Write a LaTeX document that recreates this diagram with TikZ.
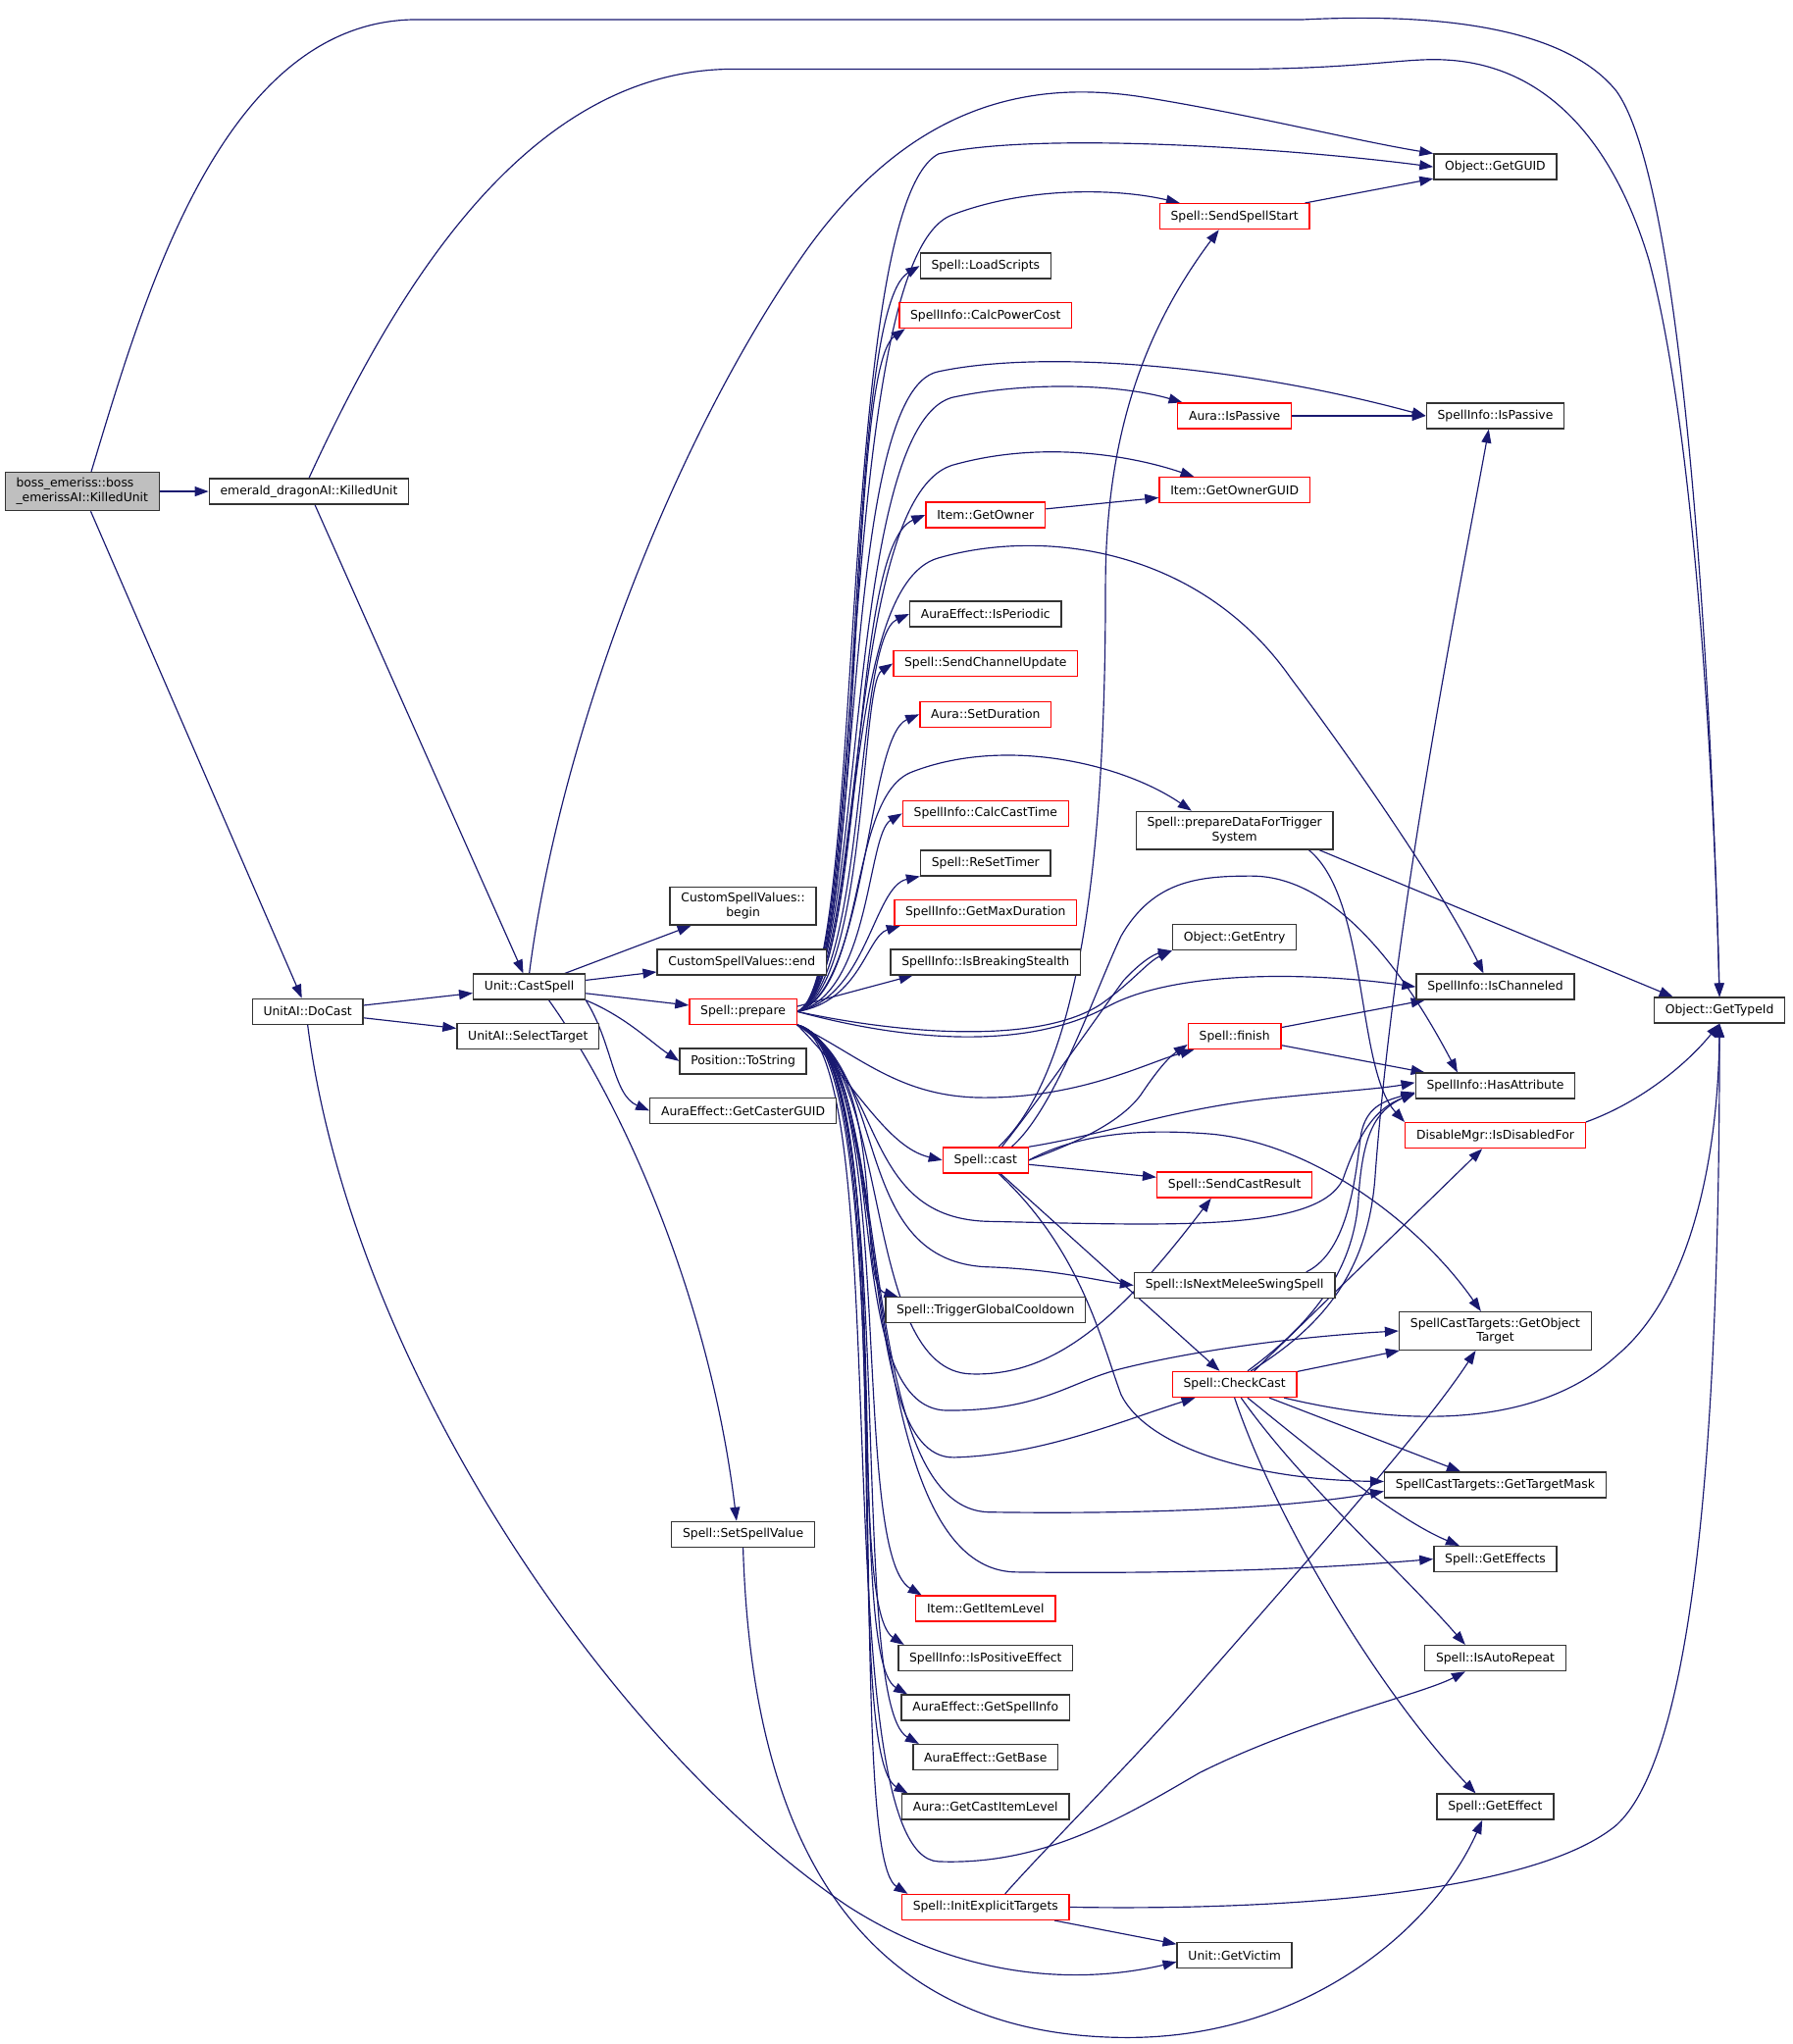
\documentclass[tikz,border=0pt]{standalone}
\usepackage{fontspec}
\setmainfont{DejaVu Sans}
\usetikzlibrary{arrows.meta, backgrounds}
\definecolor{callblue}{HTML}{191970}

\begin{document}
\begin{tikzpicture}[
        x=0.02cm, y=-0.02cm,
        fn/.style={draw=black!80, fill=white, line width=0.6pt, minimum height=0.39cm, inner xsep=0.17cm, inner ysep=0.09cm, align=center, font=\fontsize{5.3}{6.3}\selectfont},
        fnred/.style={fn, draw=red},
        root/.style={fn, fill=black!25, align=left},
        call/.style={-{Triangle[length=0.21cm,width=0.15cm]}, draw=callblue, line width=0.5pt}
    ]
    \useasboundingbox (0,0) rectangle (1375,1568);

    \node[root] (boss) at (63,377) {boss\_emeriss::boss\\\_emerissAI::KilledUnit};
    \node[fn] (emerald) at (237,377) {emerald\_dragonAI::KilledUnit};
    \node[fn] (docast) at (236,776) {UnitAI::DoCast};
    \node[fn] (castspell) at (406,757) {Unit::CastSpell};
    \node[fn] (selecttarget) at (405,795) {UnitAI::SelectTarget};
    \node[fn] (csvbegin) at (570,695) {CustomSpellValues::\\begin};
    \node[fn] (csvend) at (569,738) {CustomSpellValues::end};
    \node[fnred] (prepare) at (570,776) {Spell::prepare};
    \node[fn] (tostring) at (570,814) {Position::ToString};
    \node[fn] (castergguid) at (570,852) {AuraEffect::GetCasterGUID};
    \node[fn] (setspellvalue) at (570,1177) {Spell::SetSpellValue};

    \node[fn] (getguid) at (1147,128) {Object::GetGUID};
    \node[fnred] (sendspellstart) at (947,166) {Spell::SendSpellStart};
    \node[fn] (loadscripts) at (756,204) {Spell::LoadScripts};
    \node[fnred] (calcpowercost) at (756,242) {SpellInfo::CalcPowerCost};
    \node[fn] (ispassive) at (1147,319) {SpellInfo::IsPassive};
    \node[fnred] (aurapassive) at (947,319) {Aura::IsPassive};
    \node[fnred] (ownerguid) at (947,376) {Item::GetOwnerGUID};
    \node[fnred] (getowner) at (756,395) {Item::GetOwner};
    \node[fn] (isperiodic) at (756,471) {AuraEffect::IsPeriodic};
    \node[fnred] (sendchannel) at (756,509) {Spell::SendChannelUpdate};
    \node[fnred] (setduration) at (756,548) {Aura::SetDuration};
    \node[fn] (prepdata) at (947,637) {Spell::prepareDataForTrigger\\System};
    \node[fnred] (calccasttime) at (756,624) {SpellInfo::CalcCastTime};
    \node[fn] (resettimer) at (756,662) {Spell::ReSetTimer};
    \node[fnred] (getmaxduration) at (756,700) {SpellInfo::GetMaxDuration};
    \node[fn] (breakstealth) at (756,738) {SpellInfo::IsBreakingStealth};
    \node[fn] (getentry) at (947,719) {Object::GetEntry};
    \node[fn] (ischanneled) at (1147,757) {SpellInfo::IsChanneled};
    \node[fn] (gettypeid) at (1319,775) {Object::GetTypeId};
    \node[fnred] (finish) at (947,795) {Spell::finish};
    \node[fn] (hasattr) at (1147,833) {SpellInfo::HasAttribute};
    \node[fnred] (disabled) at (1147,871) {DisableMgr::IsDisabledFor};
    \node[fnred] (cast) at (756,890) {Spell::cast};
    \node[fnred] (sendcastresult) at (947,909) {Spell::SendCastResult};
    \node[fn] (nextmelee) at (947,986) {Spell::IsNextMeleeSwingSpell};
    \node[fn] (triggergcd) at (756,1005) {Spell::TriggerGlobalCooldown};
    \node[fn] (getobjtarget) at (1147,1021) {SpellCastTargets::GetObject\\Target};
    \node[fnred] (checkcast) at (947,1062) {Spell::CheckCast};
    \node[fn] (gettargetmask) at (1147,1139) {SpellCastTargets::GetTargetMask};
    \node[fn] (geteffects) at (1147,1196) {Spell::GetEffects};
    \node[fnred] (itemlevel) at (756,1234) {Item::GetItemLevel};
    \node[fn] (autorepeat) at (1147,1272) {Spell::IsAutoRepeat};
    \node[fn] (ispositive) at (756,1272) {SpellInfo::IsPositiveEffect};
    \node[fn] (getspellinfo) at (756,1310) {AuraEffect::GetSpellInfo};
    \node[fn] (getbase) at (756,1348) {AuraEffect::GetBase};
    \node[fn] (castitemlevel) at (756,1386) {Aura::GetCastItemLevel};
    \node[fn] (geteffect) at (1147,1386) {Spell::GetEffect};
    \node[fnred] (initexplicit) at (756,1463) {Spell::InitExplicitTargets};
    \node[fn] (getvictim) at (947,1500) {Unit::GetVictim};

    \begin{scope}[on background layer]
    % callers
    \draw[call] (boss) -- (emerald);
    \draw[call] (boss) -- (docast);
    \draw[call] ([xshift=0.14cm]boss.north) .. controls (110,230) and (170,15) .. (320,15) -- (1000,15) .. controls (1100,10) and (1200,20) .. (1240,70) .. controls (1290,140) and (1312,500) .. (gettypeid.north);
    \draw[call] (emerald.north) .. controls (300,230) and (400,55) .. (560,53) -- (960,53) .. controls (1050,52) and (1080,44) .. (1110,46) .. controls (1180,50) and (1235,100) .. (1265,200) .. controls (1300,330) and (1315,600) .. (gettypeid.north);
    \draw[call] (emerald) -- (castspell);
    \draw[call] (docast) -- (castspell);
    \draw[call] (docast) -- (selecttarget);
    \draw[call] (docast.south) .. controls (270,1050) and (470,1340) .. (650,1462) .. controls (740,1520) and (830,1522) .. ([yshift=-0.1cm]getvictim.west);

    \draw[call] (castspell.north) .. controls (430,560) and (520,330) .. (620,190) .. controls (700,80) and (790,60) .. (880,75) .. controls (960,88) and (1040,108) .. (getguid.north west);
    \draw[call] (castspell) -- (csvbegin);
    \draw[call] (castspell) -- (csvend);
    \draw[call] (castspell) -- (prepare);
    \draw[call] (castspell.south east) .. controls (480,780) and (500,800) .. (tostring.west);
    \draw[call] (castspell.south east) .. controls (470,800) and (470,840) .. (castergguid.west);
    \draw[call] ([xshift=0.3cm]castspell.south) .. controls (480,850) and (545,1000) .. ([xshift=-0.1cm]setspellvalue.north);
    \draw[call] (setspellvalue.south) .. controls (575,1350) and (620,1560) .. (860,1563) .. controls (1000,1565) and (1100,1480) .. ([xshift=-0.2cm]geteffect.south);

    % Spell::prepare
    \draw[call] (prepare.east) .. controls (665,755) and (640,160) .. (720,118) .. controls (800,100) and (1000,115) .. (getguid.west);
    \draw[call] (prepare.east) .. controls (665,755) and (640,200) .. (730,165) .. controls (790,142) and (860,145) .. ([xshift=-0.84cm]sendspellstart.north);
    \draw[call] (prepare.east) .. controls (665,755) and (645,240) .. (loadscripts.west);
    \draw[call] (prepare.east) .. controls (665,755) and (648,285) .. ([xshift=0.1cm]calcpowercost.south west);
    \draw[call] (prepare.east) .. controls (665,755) and (640,300) .. (720,285) .. controls (800,268) and (950,280) .. (ispassive.west);
    \draw[call] (prepare.east) .. controls (665,755) and (645,330) .. (730,305) .. controls (790,292) and (860,295) .. ([xshift=-0.8cm]aurapassive.north);
    \draw[call] (prepare.east) .. controls (665,755) and (645,385) .. (730,357) .. controls (800,337) and (870,350) .. ([xshift=-0.62cm]ownerguid.north);
    \draw[call] (prepare.east) .. controls (665,755) and (650,420) .. (getowner.west);
    \draw[call] (prepare.east) .. controls (665,755) and (640,450) .. (720,428) .. controls (800,405) and (920,420) .. (990,520) .. controls (1050,600) and (1110,690) .. ([xshift=-0.18cm]ischanneled.north);
    \draw[call] (prepare.east) .. controls (665,755) and (655,490) .. (isperiodic.west);
    \draw[call] (prepare.east) .. controls (665,758) and (660,525) .. (sendchannel.west);
    \draw[call] (prepare.east) .. controls (665,760) and (665,565) .. (setduration.west);
    \draw[call] (prepare.east) .. controls (665,758) and (650,610) .. (700,592) .. controls (770,565) and (860,585) .. ([xshift=-0.66cm]prepdata.north);
    \draw[call] (prepare.east) .. controls (668,762) and (665,640) .. (calccasttime.west);
    \draw[call] (prepare.east) .. controls (665,765) and (670,680) .. (resettimer.south west);
    \draw[call] (prepare.east) .. controls (660,768) and (665,718) .. ([xshift=0.1cm]getmaxduration.south west);
    \draw[call] ([yshift=0.08cm]prepare.east) -- ([xshift=0.35cm]breakstealth.south west);
    \draw[call] (prepare.east) .. controls (700,795) and (800,800) .. (845,770) .. controls (870,752) and (880,738) .. (getentry.south west);
    \draw[call] (prepare.east) .. controls (700,800) and (790,805) .. (850,772) .. controls (900,745) and (1000,745) .. (ischanneled.west);
    \draw[call] (prepare.south east) .. controls (660,810) and (690,842) .. (755,842) .. controls (830,842) and (880,815) .. ([xshift=0.1cm]finish.south west);
    \draw[call] (prepare.south east) .. controls (655,830) and (680,880) .. (cast.west);
    \draw[call] (prepare.south east) .. controls (680,830) and (660,936) .. (760,937) .. controls (900,940) and (1010,945) .. (1030,905) .. controls (1042,870) and (1055,850) .. ([yshift=-0.12cm]hasattr.west);
    \draw[call] (prepare.south east) .. controls (685,820) and (650,970) .. (760,972) .. controls (810,974) and (840,982) .. (nextmelee.west);
    \draw[call] (prepare.south east) .. controls (685,815) and (660,1052) .. (745,1054) .. controls (810,1056) and (860,1010) .. ([xshift=-0.36cm]sendcastresult.south);
    \draw[call] (prepare.south east) .. controls (685,820) and (655,985) .. ([xshift=0.2cm]triggergcd.north west);
    \draw[call] (prepare.south east) .. controls (688,810) and (640,1082) .. (727,1082) .. controls (800,1082) and (820,1060) .. (860,1050) .. controls (920,1035) and (1000,1025) .. (getobjtarget.west);
    \draw[call] (prepare.south east) .. controls (688,810) and (650,1120) .. (732,1118) .. controls (800,1116) and (860,1090) .. ([xshift=0.36cm]checkcast.south west);
    \draw[call] (prepare.south east) .. controls (690,808) and (650,1160) .. (760,1160) .. controls (900,1162) and (1000,1155) .. ([yshift=-0.1cm]gettargetmask.west);
    \draw[call] (prepare.south east) .. controls (690,808) and (650,1205) .. (780,1206) .. controls (950,1208) and (1050,1200) .. (geteffects.west);
    \draw[call] (prepare.south east) .. controls (690,805) and (650,1190) .. ([xshift=0.1cm]itemlevel.north west);
    \draw[call] (prepare.south east) .. controls (690,805) and (645,1230) .. ([xshift=0.1cm]ispositive.north west);
    \draw[call] (prepare.south east) .. controls (692,805) and (645,1270) .. ([xshift=0.1cm]getspellinfo.north west);
    \draw[call] (prepare.south east) .. controls (692,805) and (648,1305) .. ([xshift=0.1cm]getbase.north west);
    \draw[call] (prepare.south east) .. controls (694,805) and (642,1345) .. ([xshift=0.1cm]castitemlevel.north west);
    \draw[call] (prepare.south east) .. controls (690,808) and (630,1425) .. (720,1428) .. controls (800,1431) and (860,1395) .. (920,1360) .. controls (1000,1320) and (1090,1300) .. ([xshift=-0.46cm]autorepeat.south);
    \draw[call] (prepare.south east) .. controls (694,805) and (645,1420) .. ([xshift=0.1cm]initexplicit.north west);

    \draw[call] (sendspellstart) -- (getguid);
    \draw[call] (aurapassive) -- (ispassive);
    \draw[call] (getowner) -- (ownerguid);
    \draw[call] ([xshift=1.3cm]prepdata.south) -- ([xshift=0.3cm]gettypeid.north west);
    \draw[call] ([xshift=1.14cm]prepdata.south) .. controls (1050,690) and (1040,820) .. (disabled.north west);
    \draw[call] (finish) -- (ischanneled);
    \draw[call] (finish) -- (hasattr);
    \draw[call] (disabled.north east) .. controls (1260,845) and (1295,815) .. (gettypeid.south);

    % Spell::cast
    \draw[call] ([xshift=0.2cm]cast.north) .. controls (830,820) and (848,650) .. (848,450) .. controls (848,330) and (880,250) .. ([xshift=-0.24cm]sendspellstart.south);
    \draw[call] ([xshift=0.25cm]cast.north) .. controls (800,840) and (845,775) .. (862,752) .. controls (875,738) and (885,732) .. (getentry.south west);
    \draw[call] ([xshift=0.4cm]cast.north) .. controls (810,850) and (840,760) .. (860,718) .. controls (885,675) and (920,672) .. (960,672) .. controls (1030,672) and (1085,760) .. ([xshift=-0.58cm]hasattr.north);
    \draw[call] (cast.north east) .. controls (850,870) and (900,850) .. (980,842) .. controls (1030,837) and (1060,835) .. ([yshift=0.05cm]hasattr.west);
    \draw[call] (cast.east) .. controls (830,875) and (860,860) .. (875,840) .. controls (885,825) and (895,812) .. ([yshift=0.08cm]finish.south west);
    \draw[call] (cast) -- (sendcastresult);
    \draw[call] (cast.east) .. controls (830,868) and (880,866) .. (930,870) .. controls (1010,878) and (1090,940) .. ([xshift=-0.22cm]getobjtarget.north);
    \draw[call] (cast) -- (checkcast);
    \draw[call] ([xshift=0.2cm]cast.south) .. controls (830,960) and (845,1030) .. (860,1070) .. controls (880,1110) and (960,1135) .. ([yshift=0.05cm]gettargetmask.west);

    % Spell::CheckCast
    \draw[call] (checkcast) -- (getobjtarget);
    \draw[call] ([xshift=0.76cm]checkcast.south) .. controls (1080,1095) and (1180,1095) .. (1240,1040) .. controls (1300,990) and (1318,880) .. (gettypeid.south);
    \draw[call] (checkcast) -- (gettargetmask);
    \draw[call] ([xshift=0.2cm]checkcast.south) .. controls (1010,1115) and (1070,1165) .. ([xshift=-0.55cm]geteffects.north);
    \draw[call] ([xshift=0.1cm]checkcast.south) .. controls (1000,1140) and (1070,1200) .. ([xshift=-0.46cm]autorepeat.north);
    \draw[call] (checkcast.south) .. controls (980,1170) and (1060,1300) .. ([xshift=-0.3cm]geteffect.north);
    \draw[call] ([xshift=0.3cm]checkcast.north) -- ([xshift=-0.2cm]disabled.south);
    \draw[call] ([xshift=0.2cm]checkcast.north) .. controls (1000,1020) and (1038,980) .. (1042,920) .. controls (1045,870) and (1055,852) .. ([yshift=-0.1cm]hasattr.west);
    \draw[call] ([xshift=0.25cm]checkcast.north) .. controls (1010,1020) and (1050,980) .. (1055,900) .. controls (1070,700) and (1120,450) .. ([xshift=-0.1cm]ispassive.south);
    \draw[call] ([xshift=1.1cm]nextmelee.north) .. controls (1035,960) and (1040,900) .. (1044,870) .. controls (1048,850) and (1060,845) .. ([yshift=-0.1cm]hasattr.west);

    % Spell::InitExplicitTargets
    \draw[call] ([xshift=0.3cm]initexplicit.north) .. controls (800,1420) and (850,1370) .. (900,1315) .. controls (1000,1200) and (1090,1100) .. ([xshift=-0.3cm]getobjtarget.south);
    \draw[call] (initexplicit.east) .. controls (1000,1466) and (1180,1450) .. (1240,1400) .. controls (1300,1345) and (1319,1100) .. (gettypeid.south);
    \draw[call] (initexplicit) -- (getvictim);
    \end{scope}

\end{tikzpicture}
\end{document}
